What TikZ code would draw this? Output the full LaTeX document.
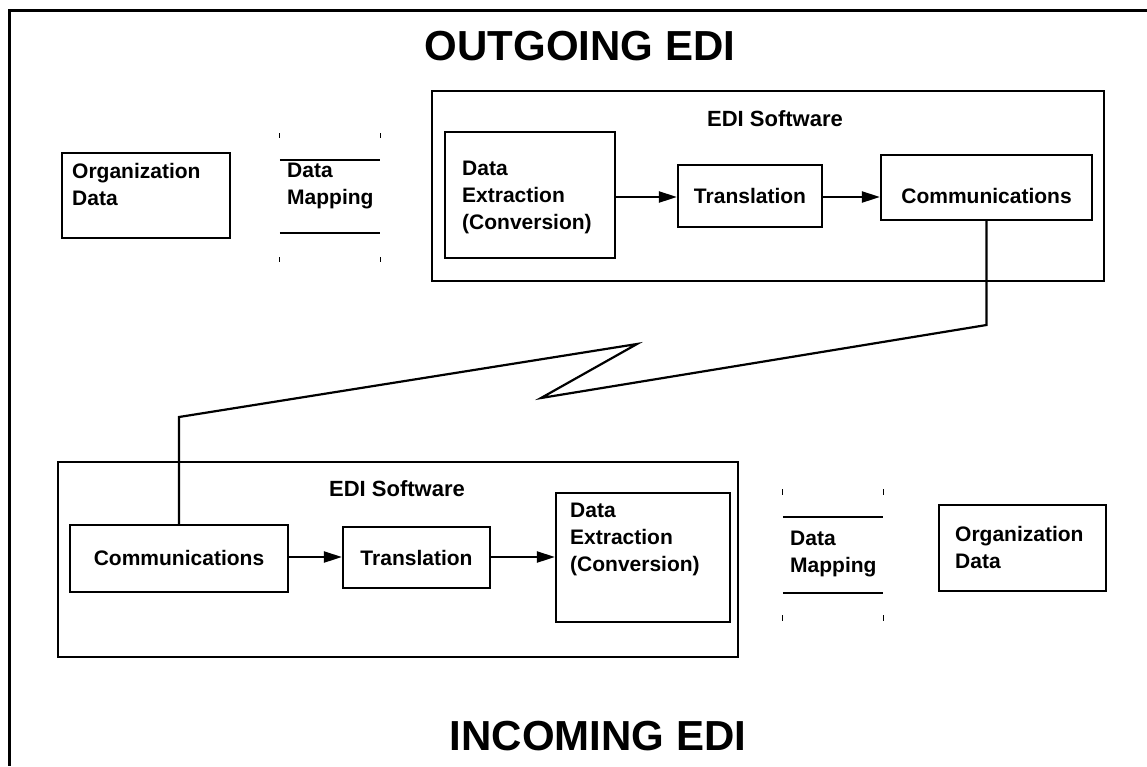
\documentclass[tikz,border=0pt]{standalone}
\usepackage{fontspec}
\setmainfont{Liberation Sans}
\usetikzlibrary{arrows.meta}
\begin{document}
\begin{tikzpicture}[x=1pt,y=-1pt,
  box/.style={draw, line width=2.2pt, inner sep=0pt},
  plain/.style={inner sep=0pt},
  txt/.style={font=\bfseries\fontsize{21}{27}\selectfont, align=left, inner sep=0pt},
  ttl/.style={font=\bfseries\fontsize{42}{50}\selectfont, inner sep=0pt},
  sub/.style={font=\bfseries\fontsize{22}{27}\selectfont, inner sep=0pt},
  arr/.style={line width=2.2pt, -{Triangle[length=18pt,width=11pt]}},
  conn/.style={line width=2.2pt},
  rule/.style={line width=1.8pt},
  tick/.style={line width=1.3pt}]
\useasboundingbox (0,0) rectangle (1147,766);
\fill[white] (0,0) rectangle (1147,766);
% frame
\coordinate (fTR) at (1147,10);
\coordinate (fTL) at (9,10);
\coordinate (fBL) at (9,766);
\draw[line width=3pt] (fTR) -- (fTL) -- (fBL);

% titles
\node[ttl] (title1) at (580,46) {OUTGOING EDI};
\node[ttl] (title2) at (598,736) {INCOMING EDI};

% ---------- outgoing ----------
\node[box, minimum width=168, minimum height=85] (orgA) at (146,195.5) {};
\node[txt, anchor=base west] (orgAt) at (72,205) {Organization\\Data};

\node[plain, minimum width=100, minimum height=73] (mapA) at (330,196.5) {};
\draw[rule] (mapA.north west) -- (mapA.north east);
\draw[rule] (mapA.south west) -- (mapA.south east);
\draw[tick] ([yshift=22pt]mapA.north west) -- ([yshift=27pt]mapA.north west);
\draw[tick] ([yshift=22pt]mapA.north east) -- ([yshift=27pt]mapA.north east);
\draw[tick] ([yshift=-24pt]mapA.south west) -- ([yshift=-29pt]mapA.south west);
\draw[tick] ([yshift=-24pt]mapA.south east) -- ([yshift=-29pt]mapA.south east);
\node[txt, anchor=base west] (mapAt) at (287,204) {Data\\Mapping};

\node[box, minimum width=672, minimum height=190] (swA) at (768,186) {};
\node[sub, anchor=base] (swAt) at (775,126) {EDI Software};

\node[box, minimum width=170, minimum height=126] (extA) at (530,195) {};
\node[txt, anchor=base west] (extAt) at (462,229) {Data\\Extraction\\(Conversion)};

\node[box, minimum width=144, minimum height=62] (trA) at (750,196) {};
\node[txt, anchor=base] (trAt) at (750,203) {Translation};

\node[box, minimum width=211, minimum height=65] (comA) at (986.5,187.5) {};
\node[txt, anchor=base] (comAt) at (986.5,203) {Communications};

\draw[arr] (extA.east |- 0,197) -- (trA.west |- 0,197);
\draw[arr] (trA.east |- 0,197) -- (comA.west |- 0,197);

% ---------- link ----------
\coordinate (zr) at (986.5,325);
\coordinate (zb) at (541,398);
\coordinate (zt) at (637,344);
\coordinate (zl) at (179,417);

% ---------- incoming ----------
\node[box, minimum width=680, minimum height=195] (swB) at (398,559.5) {};
\node[sub, anchor=base] (swBt) at (397,496) {EDI Software};

\node[box, minimum width=218, minimum height=67] (comB) at (179,558.5) {};
\node[txt, anchor=base] (comBt) at (179,565) {Communications};

\node[box, minimum width=147, minimum height=61] (trB) at (416.5,557.5) {};
\node[txt, anchor=base] (trBt) at (416.5,565) {Translation};

\node[box, minimum width=174, minimum height=129] (extB) at (643,557.5) {};
\node[txt, anchor=base west] (extBt) at (570,571) {Data\\Extraction\\(Conversion)};

\draw[arr] (comB.east |- 0,557) -- (trB.west |- 0,557);
\draw[arr] (trB.east |- 0,557) -- (extB.west |- 0,557);

\draw[conn] (comA.south) -- (zr) -- (zb) -- (zt) -- (zl) -- (comB.north);

\node[plain, minimum width=100, minimum height=76] (mapB) at (833,555) {};
\draw[rule] (mapB.north west) -- (mapB.north east);
\draw[rule] (mapB.south west) -- (mapB.south east);
\draw[tick] ([yshift=22pt]mapB.north west) -- ([yshift=28pt]mapB.north west);
\draw[tick] ([yshift=22pt]mapB.north east) -- ([yshift=28pt]mapB.north east);
\draw[tick] ([yshift=-22pt]mapB.south west) -- ([yshift=-28pt]mapB.south west);
\draw[tick] ([yshift=-22pt]mapB.south east) -- ([yshift=-28pt]mapB.south east);
\node[txt, anchor=base west] (mapBt) at (790,572) {Data\\Mapping};

\node[box, minimum width=167, minimum height=86] (orgB) at (1022.5,548) {};
\node[txt, anchor=base west] (orgBt) at (955,568) {Organization\\Data};
\end{tikzpicture}
\end{document}
